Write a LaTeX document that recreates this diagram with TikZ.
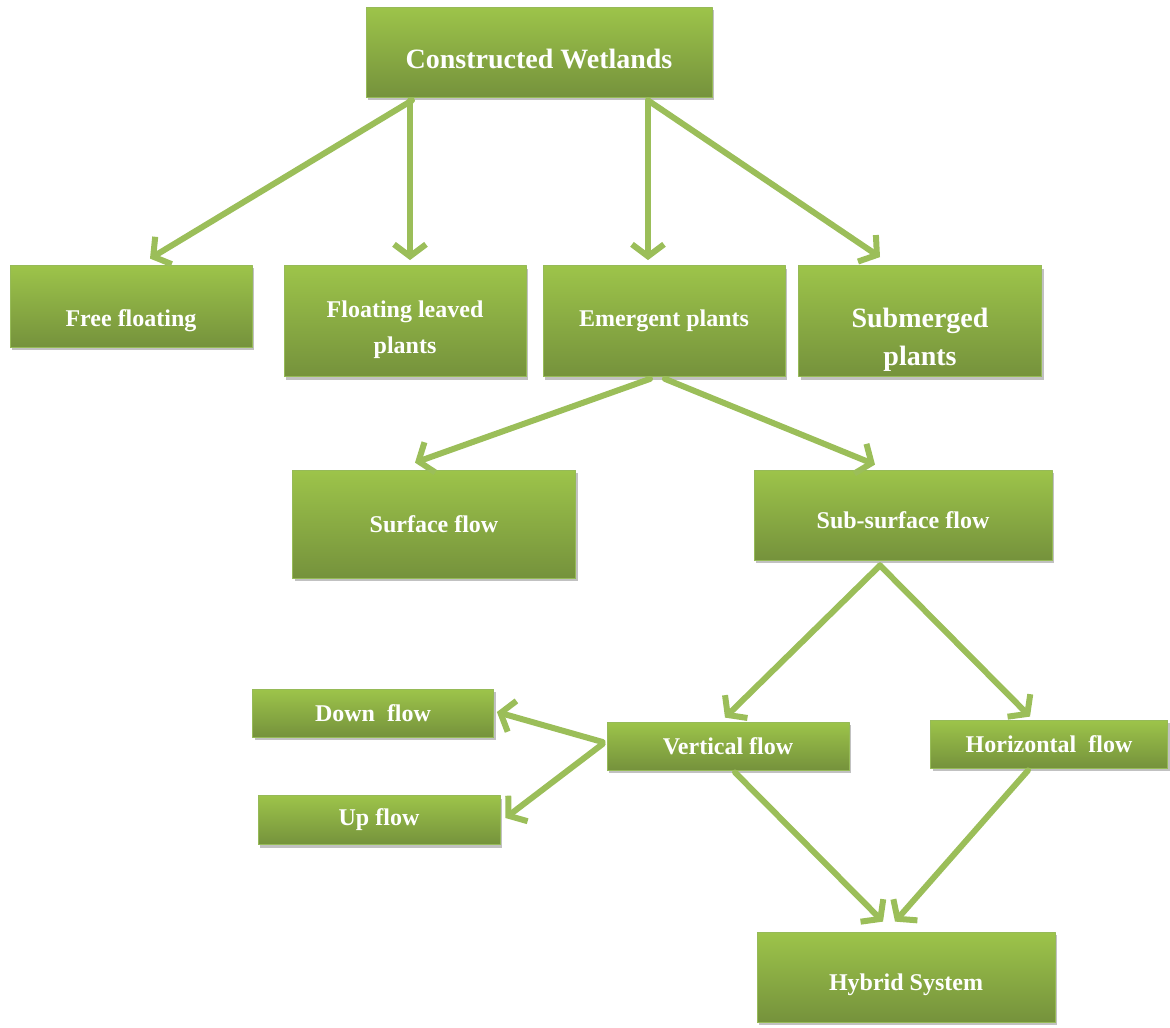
\documentclass[tikz,border=0pt]{standalone}
\usepackage{fontspec}
\setmainfont{Liberation Serif}
\usetikzlibrary{arrows.meta,shadows}

% lowers the text of a box by #1 (tall strut on the first line)
\newcommand{\dn}[1]{\rule{0pt}{\dimexpr0.7em+2\dimexpr#1\relax\relax}}

\begin{document}
\begin{tikzpicture}[
        x=1pt, y=-1pt, % one unit is one pixel of the picture
        line join=round,
        % boxes: width, height
        box/.style 2 args={rectangle, inner sep=0pt, minimum width=#1, minimum height=#2,
            top color=boxtop, bottom color=boxbot, draw=boxedge, line width=0.8pt,
            drop shadow={shadow xshift=2pt, shadow yshift=-3pt, opacity=0.35, fill=black!70},
            text=white, font=\bfseries\fontsize{24}{36}\selectfont, align=center},
        bigtext/.style={font=\bfseries\fontsize{28}{38}\selectfont},
        arr/.style={draw=arrowgreen, line width=6pt, line cap=round,
            -{Straight Barb[length=12pt,width=32pt]}}
        ]

        % 1. Colours of the boxes and arrows
        \definecolor{boxtop}{RGB}{157,196,74}
        \definecolor{boxbot}{RGB}{117,146,60}
        \definecolor{boxedge}{RGB}{150,186,88}
        \definecolor{arrowgreen}{RGB}{155,190,89}

        \useasboundingbox (0,0) rectangle (1170,1028);

        % 2. The boxes
        \node[box={346pt}{90pt}, bigtext] (cw) at (539,52) {\dn{7pt}Constructed Wetlands};

        \node[box={242pt}{82pt}] (ff) at (131,306) {\dn{15pt}Free floating};
        \node[box={242pt}{111pt}] (fl) at (405,321) {\dn{9pt}Floating leaved\\plants};
        \node[box={242pt}{111pt}] (ep) at (664,321) {Emergent plants};
        \node[box={243pt}{111pt}, bigtext] (sp) at (920,321) {\dn{19pt}Submerged\\plants};

        \node[box={283pt}{108pt}] (sf) at (434,524) {Surface flow};
        \node[box={298pt}{90pt}] (ss) at (903,515) {\dn{5pt}Sub-surface flow};

        \node[box={241pt}{48pt}] (df) at (373,713) {Down~ flow};
        \node[box={242pt}{48pt}] (vf) at (728,746) {Vertical flow};
        \node[box={237pt}{48pt}] (hf) at (1049,744) {Horizontal~ flow};
        \node[box={242pt}{49pt}] (uf) at (379,820) {Up flow};

        \node[box={298pt}{90pt}] (hs) at (906,977) {\dn{8pt}Hybrid System};

        % 3. The arrows
        % first level
        \draw[arr] ([xshift=-127pt,yshift=-3pt]cw.south) -- ([xshift=19pt,yshift=6pt]ff.north);
        \draw[arr] ([xshift=-129pt,yshift=-3pt]cw.south) -- ([xshift=5pt,yshift=5pt]fl.north);
        \draw[arr] ([xshift=109pt,yshift=-3pt]cw.south) -- ([xshift=-16pt,yshift=5pt]ep.north);
        \draw[arr] ([xshift=109pt,yshift=-3pt]cw.south) -- ([xshift=-40pt,yshift=8pt]sp.north);

        % emergent plants
        \draw[arr] ([xshift=-14pt,yshift=-2pt]ep.south) -- ([xshift=-19pt,yshift=7pt]sf.north);
        \draw[arr] ([xshift=1pt,yshift=-2pt]ep.south) -- ([xshift=-28pt,yshift=5pt]ss.north);

        % sub-surface flow
        \draw[arr] ([xshift=-23pt,yshift=-5pt]ss.south) -- ([xshift=-3pt,yshift=4pt]vf.north);
        \draw[arr] ([xshift=-23pt,yshift=-5pt]ss.south) -- ([xshift=-19pt,yshift=3pt]hf.north);

        % vertical flow
        \draw[arr] ([xshift=-4pt,yshift=4pt]vf.west) -- ([xshift=3pt,yshift=1pt]df.east);
        \draw[arr] ([xshift=-4pt,yshift=2pt]vf.west) -- ([xshift=5pt,yshift=2pt]uf.east);

        % hybrid system
        \draw[arr] ([xshift=7pt,yshift=-2pt]vf.south) -- ([xshift=-23pt,yshift=10pt]hs.north);
        \draw[arr] ([xshift=-21pt,yshift=-2pt]hf.south) -- ([xshift=-11pt,yshift=10pt]hs.north);
    \end{tikzpicture}
\end{document}
